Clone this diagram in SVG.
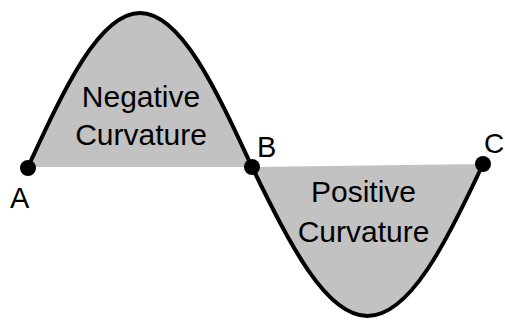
<svg xmlns="http://www.w3.org/2000/svg" width="505" height="320" viewBox="0 0 505 320">
  <style>
    .region { fill: #c2c2c2; stroke: none; }
    .curve { fill: none; stroke: #000; stroke-width: 4; stroke-linecap: round; }
    .dot { fill: #000; }
    .lbl { font-family: "Liberation Sans", Arial, sans-serif; font-size: 29px; fill: #000; }
    .rlbl { font-family: "Liberation Sans", Arial, sans-serif; font-size: 30px; fill: #000; text-anchor: middle; }
  </style>
  <rect width="505" height="320" fill="#fff"/>
  <g id="region-negative">
    <path class="region" d="M28,167 C64.5,88 99.5,13 140,13 C180.5,13 215.5,88 252,167 Z"/>
    <text class="rlbl" x="141" y="107">Negative</text>
    <text class="rlbl" x="141" y="145">Curvature</text>
  </g>
  <g id="region-positive">
    <path class="region" d="M252,167 C289.7,244 325.7,316 367.5,316 C409.3,316 445.8,244 483,164 Z"/>
    <text class="rlbl" x="363.5" y="202">Positive</text>
    <text class="rlbl" x="363.5" y="242">Curvature</text>
  </g>
  <g id="connectors">
    <path class="curve" d="M28,167 C64.5,88 99.5,13 140,13 C180.5,13 215.5,88 252,167"/>
    <path class="curve" d="M252,167 C289.7,244 325.7,316 367.5,316 C409.3,316 445.8,244 483,164"/>
  </g>
  <g id="node-A">
    <circle class="dot" cx="28" cy="168" r="8"/>
    <text class="lbl" x="10" y="208">A</text>
  </g>
  <g id="node-B">
    <circle class="dot" cx="252" cy="167" r="8"/>
    <text class="lbl" x="257" y="157">B</text>
  </g>
  <g id="node-C">
    <circle class="dot" cx="483" cy="164" r="8"/>
    <text class="lbl" x="484" y="153" style="font-size:28px">C</text>
  </g>
</svg>
